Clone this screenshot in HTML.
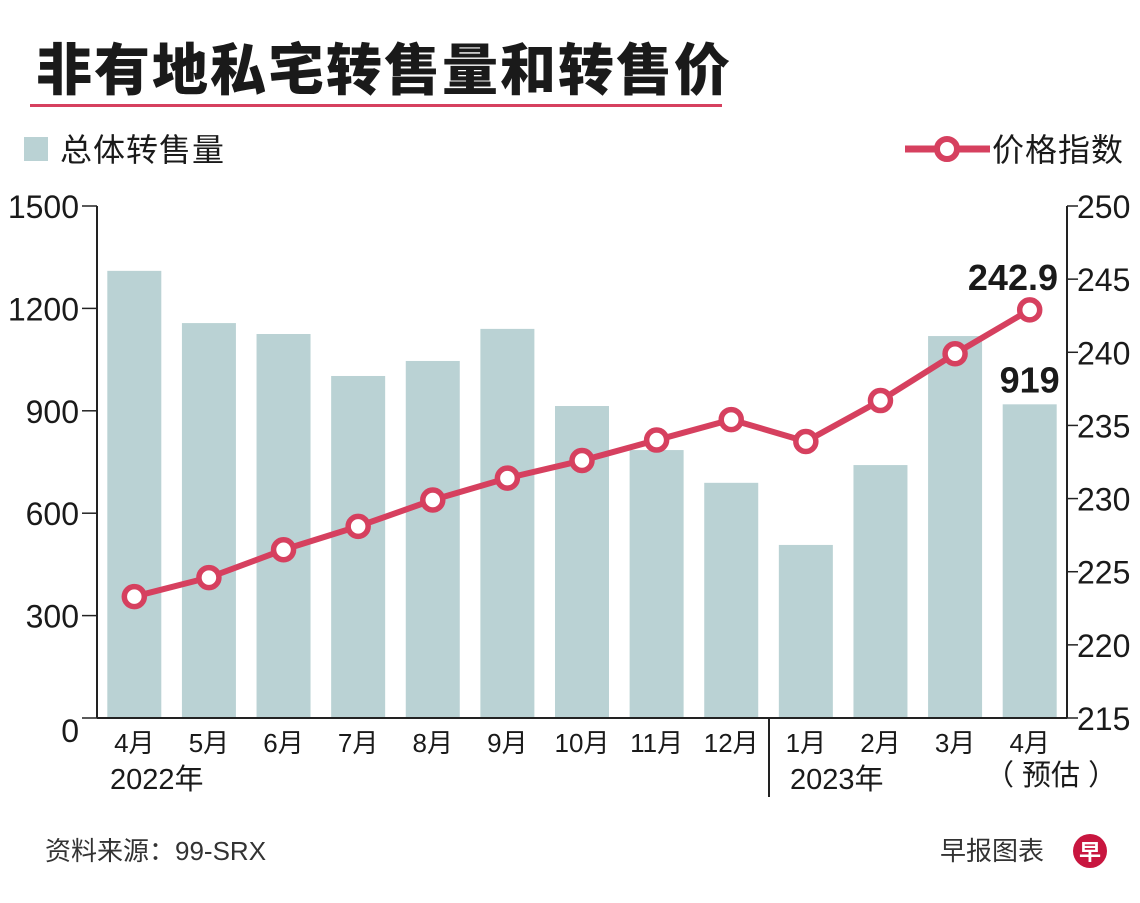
<!DOCTYPE html>
<html><head><meta charset="utf-8"><style>
body{margin:0;background:#fff;width:1140px;height:898px;overflow:hidden;font-family:"Liberation Sans","Noto Sans CJK SC",sans-serif;}
</style></head><body>
<svg width="1140" height="898" font-family="Liberation Sans, Noto Sans CJK SC, sans-serif">
<text x="36" y="90" font-size="56" font-weight="900" letter-spacing="2" fill="#1a1a1a">非有地私宅转售量和转售价</text>
<rect x="30" y="104" width="692" height="3" fill="#d6405f"/>
<g><rect x="24" y="137" width="24" height="24" fill="#bad2d4"/><text x="60" y="161" font-size="32" letter-spacing="1" fill="#1a1a1a">总体转售量</text></g>
<g><line x1="905" y1="149" x2="990" y2="149" stroke="#d6405f" stroke-width="7"/><circle cx="947" cy="149" r="10" fill="#fff" stroke="#d6405f" stroke-width="6"/><text x="992" y="161" font-size="32" letter-spacing="1" fill="#1a1a1a">价格指数</text></g>
<g id="g"></g>
<text x="45" y="860" font-size="26" fill="#333">资料来源：99-SRX</text>
<text x="940" y="860" font-size="26" fill="#333">早报图表</text>
<circle cx="1090" cy="851" r="17" fill="#c8163f"/>
<text x="1090" y="860" font-size="22" font-weight="bold" fill="#fff" text-anchor="middle">早</text>
</svg>
<script>
const months=["4月","5月","6月","7月","8月","9月","10月","11月","12月","1月","2月","3月","4月"];
const volume=[1310,1157,1125,1002,1046,1140,914,785,689,507,741,1119,919];
const priceIndex=[223.3,224.6,226.5,228.1,229.9,231.4,232.6,234.0,235.4,233.9,236.7,239.9,242.9];
const leftTicks=[0,300,600,900,1200,1500];
const rightTicks=[215,220,225,230,235,240,245,250];
const NS="http://www.w3.org/2000/svg";const g=document.getElementById('g');
const X0=97,X1=1067,Y0=718,Y1=206,step=(X1-X0)/13;
const xc=i=>X0+step*(i+0.5);
const yL=v=>Y0-(v/1500)*(Y0-Y1);
const yR=v=>Y0-((v-215)/35)*(Y0-Y1);
function mk(t,a,p){const e=document.createElementNS(NS,t);for(const k in a)e.setAttribute(k,a[k]);(p||g).appendChild(e);return e;}
volume.forEach((v,i)=>{const r=mk('rect',{x:xc(i)-27,y:yL(v),width:54,height:Y0-yL(v),fill:'#bad2d4'});

});
mk('line',{x1:X0,y1:Y1,x2:X0,y2:Y0,stroke:'#222','stroke-width':2});
mk('line',{x1:X1,y1:Y1,x2:X1,y2:Y0,stroke:'#222','stroke-width':2});
mk('line',{x1:X0,y1:Y0,x2:X1,y2:Y0,stroke:'#222','stroke-width':2});
mk('line',{x1:769,y1:Y0,x2:769,y2:797,stroke:'#222','stroke-width':2});
leftTicks.forEach(v=>{mk('line',{x1:82,y1:yL(v),x2:X0,y2:yL(v),stroke:'#222','stroke-width':1.5});
const t=mk('text',{x:79,y:yL(v)+12+(v===0?12:0),'font-size':32,'text-anchor':'end',fill:'#1a1a1a'});t.textContent=v;

});
rightTicks.forEach(v=>{mk('line',{x1:X1,y1:yR(v),x2:1078,y2:yR(v),stroke:'#222','stroke-width':1.5});
const t=mk('text',{x:1077,y:yR(v)+12,'font-size':32,fill:'#1a1a1a'});t.textContent=v;

});
months.forEach((m,i)=>{const t=mk('text',{x:xc(i),y:752,'font-size':26,'text-anchor':'middle',fill:'#1a1a1a'});t.textContent=m;

});
[[110,789,'2022年'],[790,789,'2023年'],[985,785,'（ 预估 ）']].forEach(a=>{const t=mk('text',{x:a[0],y:a[1],'font-size':29,fill:'#1a1a1a'});t.textContent=a[2];

});
const pl=mk('polyline',{points:priceIndex.map((v,i)=>xc(i)+','+yR(v)).join(' '),fill:'none',stroke:'#d6405f','stroke-width':6});


priceIndex.forEach((v,i)=>{const c=mk('circle',{cx:xc(i),cy:yR(v),r:10,fill:'#fff',stroke:'#d6405f','stroke-width':5.5});

});
const n=volume.length-1;
const a1=mk('text',{x:1058,y:yR(priceIndex[n])-20,'font-size':36,'font-weight':'bold','text-anchor':'end',fill:'#1a1a1a'});a1.textContent=priceIndex[n];


const a2=mk('text',{x:xc(n),y:yL(volume[n])-12,'font-size':36,'font-weight':'bold','text-anchor':'middle',fill:'#1a1a1a'});a2.textContent=volume[n];


</script>
</body></html>
